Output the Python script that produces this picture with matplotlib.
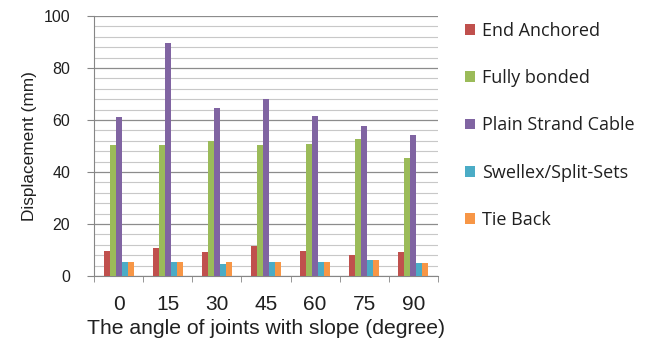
import numpy as np
import matplotlib.pyplot as plt
from matplotlib.ticker import MultipleLocator

angles = ["0", "15", "30", "45", "60", "75", "90"]
series_names = [
    "End Anchored",
    "Fully bonded",
    "Plain Strand Cable",
    "Swellex/Split-Sets",
    "Tie Back",
]
end_anchored = [9.7, 10.9, 9.2, 11.4, 9.7, 7.9, 9.2]
fully_bonded = [50.4, 50.4, 52.1, 50.4, 50.9, 52.6, 45.3]
plain_strand = [61.2, 89.5, 64.5, 68.1, 61.7, 57.7, 54.4]
swellex = [5.2, 5.2, 4.6, 5.2, 5.2, 6.2, 5.1]
tie_back = [5.2, 5.2, 5.2, 5.2, 5.2, 6.2, 5.1]

colors = ["#C0504D", "#9BBB59", "#8064A2", "#4BACC6", "#F79646"]
values = [end_anchored, fully_bonded, plain_strand, swellex, tie_back]

fig = plt.figure(figsize=(6.59, 3.47), dpi=100)
ax = fig.add_axes([0.1426, 0.2046, 0.5220, 0.7493])

x = np.arange(len(angles))
width = 0.122
for i, (name, vals, col) in enumerate(zip(series_names, values, colors)):
    ax.bar(x + (i - 2) * width, vals, width, color=col, label=name, zorder=3)

ax.set_xlim(-0.5, len(angles) - 0.5)
ax.set_ylim(0, 100)
ax.yaxis.set_major_locator(MultipleLocator(20))
ax.yaxis.set_minor_locator(MultipleLocator(4))
ax.grid(axis="y", which="major", color="#8c8c8c", linewidth=0.9, zorder=0)
ax.grid(axis="y", which="minor", color="#c8c8c8", linewidth=0.8, zorder=0)

ax.set_xticks(x)
ax.set_xticklabels(angles)
ax.set_xticks(np.arange(len(angles) + 1) - 0.5, minor=True)
ax.tick_params(axis="x", which="major", length=0, pad=14, labelsize=15,
               labelcolor="#202020")
ax.tick_params(axis="x", which="minor", length=4, color="#868686")
ax.tick_params(axis="y", which="major", length=5, color="#868686", pad=12,
               labelsize=11.5, labelcolor="#202020")
ax.tick_params(axis="y", which="minor", length=0)
for lbl in ax.get_xticklabels() + ax.get_yticklabels():
    lbl.set_family("Liberation Sans")

for side in ("top", "right"):
    ax.spines[side].set_visible(False)
for side in ("left", "bottom"):
    ax.spines[side].set_color("#868686")

ax.set_xlabel("The angle of joints with slope (degree)", fontsize=15.2,
              family="Liberation Sans", color="#202020", labelpad=3)
ax.set_ylabel("Displacement (mm)", fontsize=12.4, family="Liberation Sans",
              color="#202020", labelpad=5)

ax.legend(loc="upper left", bbox_to_anchor=(1.058, 1.005), frameon=False,
          prop={"family": "Open Sans", "size": 13}, handlelength=0.55,
          handleheight=0.55, handletextpad=0.37, labelspacing=1.62,
          borderaxespad=0, labelcolor="#202020")

fig.savefig("out.png", dpi=100)
